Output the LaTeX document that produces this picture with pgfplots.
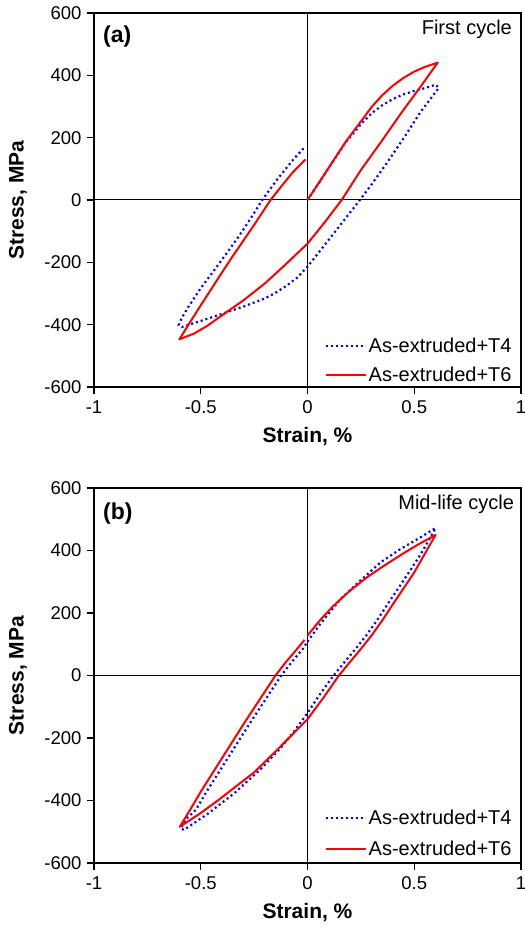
\documentclass[border=0pt]{standalone}
\usepackage{fontspec}
\setmainfont{Liberation Sans}
\usepackage{pgfplots}
\usepackage{pgfplotstable}
\pgfplotsset{compat=1.18}

\pgfplotstableread{
x y
0 0
0.06 62
0.12 125
0.18 188
0.25 252
0.30 298
0.35 336
0.40 367
0.45 392
0.50 412
0.55 427
0.61 441
0.53 364
0.44 280
0.34 182
0.25 96
0.16 0
0.08 -72
0 -140
-0.1 -205
-0.2 -268
-0.3 -322
-0.39 -365
-0.47 -404
-0.53 -428
-0.6 -447
-0.55 -392
-0.5 -338
-0.45 -285
-0.4 -232
-0.35 -180
-0.3 -130
-0.25 -80
-0.2 -28
-0.173 0
-0.12 46
-0.07 88
-0.01 130
}\aTsix

\pgfplotstableread{
x y
0 0
0.06 62
0.12 125
0.18 186
0.25 243
0.30 278
0.35 304
0.40 324
0.45 339
0.50 350
0.55 359
0.60 370
0.615 360
0.53 283
0.45 198
0.37 117
0.295 45
0.245 0
0.17 -66
0.09 -136
0 -214
-0.05 -250
-0.1 -276
-0.15 -298
-0.2 -316
-0.3 -342
-0.39 -363
-0.5 -388
-0.587 -407
-0.603 -401
-0.59 -380
-0.56 -345
-0.5 -283
-0.44 -228
-0.38 -172
-0.32 -115
-0.265 -58
-0.212 0
-0.142 66
-0.064 132
-0.01 172
}\aTfour

\pgfplotstableread{
x y
0 128
0.06 178
0.12 222
0.2 272
0.28 315
0.36 352
0.44 387
0.52 420
0.6 450
0.56 402
0.5 330
0.4 228
0.35 176
0.3 128
0.25 85
0.2 44
0.147 0
0.077 -69
0 -140
-0.08 -195
-0.16 -250
-0.25 -310
-0.345 -360
-0.42 -400
-0.5 -440
-0.598 -484
-0.55 -430
-0.5 -372
-0.45 -318
-0.4 -264
-0.35 -210
-0.3 -156
-0.25 -104
-0.2 -52
-0.15 0
-0.1 44
-0.05 84
-0.014 114
}\bTsix

\pgfplotstableread{
x y
0 108
0.06 165
0.155 245
0.25 305
0.342 362
0.436 405
0.529 442
0.6 472
0.57 435
0.53 388
0.475 330
0.375 228
0.325 176
0.275 128
0.225 85
0.175 44
0.122 0
0.05 -68
0 -120
-0.064 -180
-0.126 -232
-0.22 -300
-0.345 -378
-0.47 -444
-0.579 -494
-0.593 -490
-0.57 -460
-0.523 -430
-0.473 -372
-0.423 -318
-0.373 -264
-0.323 -210
-0.273 -156
-0.223 -104
-0.173 -52
-0.123 0
-0.073 44
-0.023 84
0 108
}\bTfour

\pgfplotsset{
  hyst/.style={
    scale only axis, width=427pt,
    xmin=-1, xmax=1, ymin=-600, ymax=600,
    xtick={-1,-0.5,0,0.5,1},
    ytick={-600,-400,-200,0,200,400,600},
    tick align=outside, xtick pos=left, ytick pos=left,
    major tick length=7pt,
    axis line style={line width=1.3pt},
    every tick/.style={black, line width=1.2pt},
    tick label style={font=\fontsize{18.5}{20}\selectfont},
    xticklabel style={yshift=-3pt},
    yticklabel style={xshift=-2pt},
    /pgf/number format/assume math mode=true,
    xlabel={Strain, \%}, ylabel={Stress, MPa},
    label style={font=\fontsize{21}{24}\selectfont\bfseries},
    ylabel style={at={(axis description cs:-0.178,0.5)}, anchor=center},
    legend style={at={(axis description cs:0.99,0.0)}, anchor=south east,
      draw=none, fill=none, font=\fontsize{20}{24}\selectfont, row sep=9pt},
    legend cell align=left,
    legend image code/.code={\draw[##1] (0pt,0pt) -- (40pt,0pt);},
  },
  tfour/.style={blue, line width=2.2pt, line cap=butt, dash pattern=on 2pt off 3pt},
  tsix/.style={red, line width=2pt, line join=round},
}

\begin{document}
\begin{tikzpicture}
\useasboundingbox (0pt,0pt) rectangle (525pt,927pt);
\begin{axis}[hyst, at={(94pt,540pt)}, height=374pt,
  xlabel style={at={(axis description cs:0.5,-0.1337)}, anchor=center}]
\addplot[black, line width=1pt, forget plot] coordinates {(0,-600) (0,600)};
\addplot[black, line width=1pt, forget plot] coordinates {(-1,0) (1,0)};
\addplot[tfour] table[x=x,y=y] {\aTfour};
\addlegendentry{As-extruded+T4}
\addplot[tsix] table[x=x,y=y] {\aTsix};
\addlegendentry{As-extruded+T6}
\node[anchor=west, inner sep=0pt, font=\fontsize{23}{26}\selectfont\bfseries] at (rel axis cs:0.021,0.936) {(a)};
\node[anchor=east, inner sep=0pt, font=\fontsize{20}{24}\selectfont] at (rel axis cs:0.979,0.955) {First cycle};
\end{axis}
\begin{axis}[hyst, at={(94pt,64pt)}, height=375pt,
  xlabel style={at={(axis description cs:0.5,-0.1333)}, anchor=center},
  legend style={at={(axis description cs:0.99,0.005)}, row sep=11pt}]
\addplot[black, line width=1pt, forget plot] coordinates {(0,-600) (0,600)};
\addplot[black, line width=1pt, forget plot] coordinates {(-1,0) (1,0)};
\addplot[tfour] table[x=x,y=y] {\bTfour};
\addlegendentry{As-extruded+T4}
\addplot[tsix] table[x=x,y=y] {\bTsix};
\addlegendentry{As-extruded+T6}
\node[anchor=west, inner sep=0pt, font=\fontsize{23}{26}\selectfont\bfseries] at (rel axis cs:0.021,0.933) {(b)};
\node[anchor=east, inner sep=0pt, font=\fontsize{20}{24}\selectfont] at (rel axis cs:0.984,0.957) {Mid-life cycle};
\end{axis}
\end{tikzpicture}
\end{document}
